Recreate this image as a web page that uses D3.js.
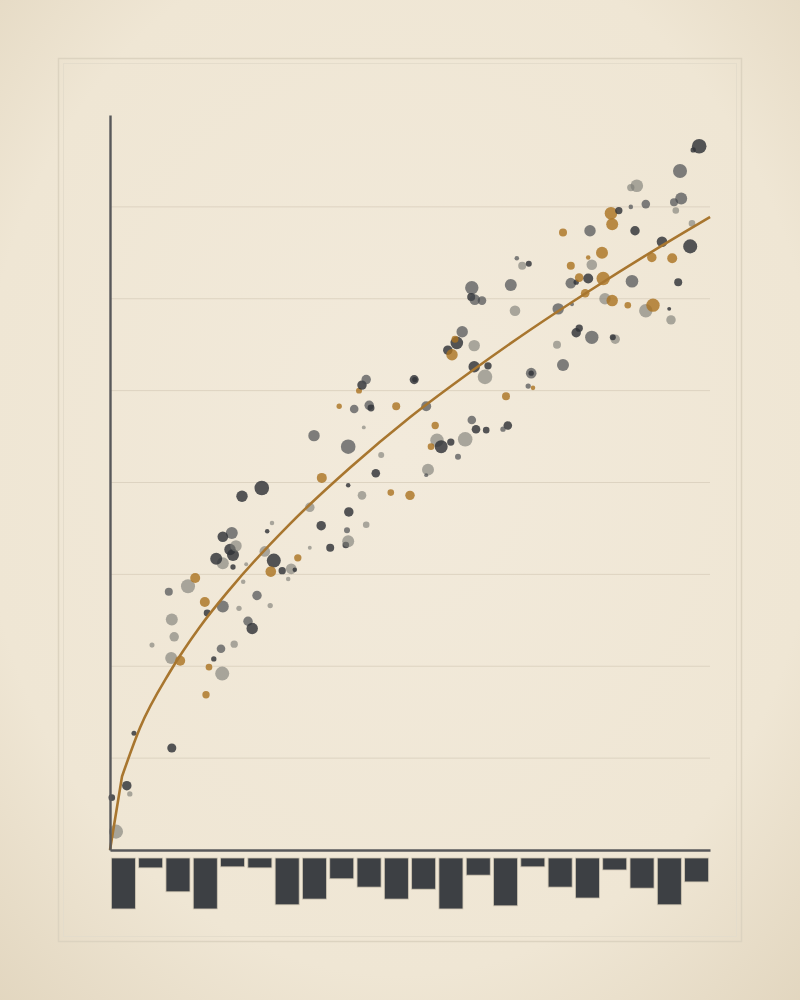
<!DOCTYPE html>
<html>
<head>
<meta charset="utf-8">
<script src="https://cdn.jsdelivr.net/npm/d3@7"></script>
<style>
  html, body { margin: 0; padding: 0; background: #f1e9d8; }
  svg { display: block; }
</style>
</head>
<body>
<script>
// ---------- data ----------
// scatter observations: [x, y, weight, group]  (groups: d = dark, m = mid grey, l = light grey, g = gold)
const observations = [
  [1.0,2.0,77,"l"],[0.3,5.7,17,"d"],[2.8,7.0,35,"d"],[3.3,6.1,11,"l"],[4.0,12.7,10,"d"],
  [10.3,11.1,32,"d"],[16.0,16.9,21,"g"],[18.7,19.2,77,"l"],[16.5,19.9,17,"g"],[17.3,20.8,11,"d"],
  [10.2,20.9,56,"l"],[11.7,20.6,39,"g"],[7.0,22.3,10,"l"],[18.5,21.9,29,"m"],[20.7,22.4,21,"l"],
  [10.7,23.2,35,"l"],[10.3,25.1,56,"l"],[23.0,24.9,35,"m"],[23.7,24.1,51,"d"],[21.5,26.3,11,"l"],
  [18.8,26.5,56,"m"],[16.2,25.8,19,"d"],[15.8,27.0,39,"g"],[9.8,28.1,25,"m"],[13.0,28.7,77,"l"],
  [14.2,29.6,39,"g"],[24.5,27.7,35,"m"],[26.7,26.6,11,"l"],[22.2,29.2,8,"l"],[22.7,31.1,6,"l"],
  [20.5,30.8,11,"d"],[18.8,31.2,56,"l"],[17.7,31.7,56,"d"],[20.5,32.1,56,"d"],[20.0,32.7,51,"d"],
  [21.0,33.1,51,"l"],[20.3,34.5,56,"m"],[18.8,34.1,44,"d"],[22.0,38.5,51,"d"],[25.3,39.4,83,"d"],
  [27.0,35.6,8,"l"],[26.2,34.7,8,"d"],[25.8,32.5,44,"l"],[27.3,31.5,77,"d"],[28.7,30.4,21,"d"],
  [26.8,30.3,44,"g"],[30.2,30.6,44,"l"],[30.8,30.5,8,"d"],[29.7,29.5,8,"l"],[31.3,31.8,21,"g"],
  [33.3,32.9,6,"l"],[33.3,37.3,35,"l"],[35.2,35.3,35,"d"],[35.3,40.5,39,"g"],[36.7,32.9,25,"d"],
  [39.3,33.2,17,"d"],[39.7,33.6,56,"l"],[39.5,34.8,14,"m"],[42.7,35.4,17,"l"],[39.8,36.8,35,"d"],
  [42.0,38.6,29,"l"],[39.7,39.7,8,"d"],[46.8,38.9,17,"g"],[50.0,38.6,35,"g"],[44.3,41.0,29,"d"],
  [45.2,43.0,14,"l"],[39.7,43.9,83,"m"],[34.0,45.1,51,"m"],[42.3,46.0,6,"l"],[38.2,48.3,11,"g"],
  [40.7,48.0,29,"m"],[43.2,48.4,35,"m"],[43.5,48.1,19,"d"],[47.7,48.3,25,"g"],[52.7,48.3,39,"m"],
  [41.5,50.0,14,"g"],[42.0,50.6,35,"d"],[42.7,51.2,35,"m"],[50.7,51.2,32,"d"],[50.8,51.2,11,"d"],
  [54.2,46.2,21,"g"],[54.5,44.6,70,"l"],[55.2,43.9,66,"d"],[53.5,43.9,17,"g"],[53.0,41.4,56,"l"],
  [52.7,40.8,6,"m"],[56.8,44.4,21,"d"],[59.2,44.7,83,"l"],[58.0,42.8,14,"m"],[60.3,46.8,29,"m"],
  [61.0,45.8,29,"d"],[62.7,45.7,17,"d"],[66.3,46.2,29,"d"],[65.5,45.8,11,"m"],[66.0,49.4,25,"g"],
  [69.7,50.5,11,"m"],[70.5,50.3,8,"g"],[70.2,51.9,44,"m"],[70.2,51.9,11,"d"],[60.7,52.6,51,"d"],
  [63.0,52.7,21,"d"],[62.5,51.5,83,"l"],[58.7,56.4,51,"m"],[57.8,55.2,62,"d"],[56.3,54.4,35,"d"],
  [57.0,53.9,51,"g"],[60.7,54.9,51,"l"],[57.5,55.6,19,"g"],[60.3,61.2,70,"m"],[60.2,60.2,25,"d"],
  [60.8,59.9,44,"m"],[62.0,59.8,29,"m"],[66.8,61.5,56,"m"],[67.5,58.7,44,"l"],[67.8,64.4,8,"m"],
  [68.7,63.6,25,"l"],[69.8,63.8,14,"d"],[74.7,58.9,51,"m"],[74.5,55.0,25,"l"],[75.5,52.8,56,"m"],
  [77.0,59.4,6,"m"],[76.8,61.7,44,"m"],[77.7,61.8,11,"d"],[78.2,62.3,29,"g"],[79.7,62.2,39,"d"],
  [79.2,60.6,29,"g"],[76.8,63.6,25,"g"],[80.3,63.7,44,"l"],[79.7,64.5,8,"g"],[82.0,65.0,56,"g"],
  [82.2,62.2,70,"g"],[82.5,60.0,51,"l"],[83.7,59.8,51,"g"],[86.3,59.3,17,"g"],[87.0,61.9,62,"m"],
  [78.2,56.8,21,"d"],[77.7,56.3,35,"d"],[80.3,55.8,70,"m"],[84.2,55.6,35,"l"],[83.8,55.8,14,"d"],
  [89.3,58.7,70,"l"],[90.5,59.3,70,"g"],[93.2,58.9,6,"d"],[93.5,57.7,35,"l"],[90.3,64.5,35,"g"],
  [93.7,64.4,39,"g"],[92.0,66.2,44,"d"],[96.7,65.7,77,"d"],[94.7,61.8,25,"d"],[75.5,67.2,25,"g"],
  [80.0,67.4,51,"m"],[87.5,67.4,35,"d"],[83.7,68.1,56,"g"],[83.5,69.3,62,"g"],[84.8,69.6,21,"d"],
  [86.8,70.0,8,"m"],[89.3,70.3,29,"m"],[94.0,70.5,25,"m"],[95.2,70.9,56,"m"],[94.3,69.6,17,"l"],
  [97.0,68.2,17,"l"],[87.8,72.3,62,"l"],[86.8,72.1,21,"l"],[95.0,73.9,77,"m"],[98.2,76.6,83,"d"],
  [97.2,76.2,11,"d"]
];

// fitted trend
const trendX = [0, 2, 5, 10, 15, 20, 30, 40, 50, 60, 70, 80, 90, 100];
const trendY = [0, 8.0, 13.3, 19.4, 24.3, 28.4, 35.5, 41.6, 47.1, 52.0, 56.6, 60.9, 65.0, 68.9];

// marginal bars (hanging below the x axis), 22 bins
const barValues = [9.8, 1.9, 6.5, 9.8, 1.7, 1.9, 9.0, 7.9, 4.0, 5.6, 7.9, 6.0, 9.8, 3.3, 9.2, 1.7, 5.6, 7.7, 2.3, 5.8, 9.0, 4.6];

const gridValues = [10, 20, 30, 40, 50, 60, 70];

// ---------- drawing ----------
(function () {
  const W = 800, H = 1000;
  const svg = d3.select("body").append("svg").attr("width", W).attr("height", H);

  const defs = svg.append("defs");
  const rg = defs.append("radialGradient").attr("id", "bg")
    .attr("cx", "50%").attr("cy", "45%").attr("r", "75%");
  rg.append("stop").attr("offset", "0%").attr("stop-color", "#f2eadb");
  rg.append("stop").attr("offset", "70%").attr("stop-color", "#efe6d4");
  rg.append("stop").attr("offset", "100%").attr("stop-color", "#e2d6bf");
  svg.append("rect").attr("width", W).attr("height", H).attr("fill", "url(#bg)");

  // frame
  svg.append("rect").attr("x", 58.5).attr("y", 58.5).attr("width", 683).attr("height", 883)
    .attr("fill", "none").attr("stroke", "#dcd3c0").attr("stroke-width", 1.5);
  svg.append("rect").attr("x", 63.5).attr("y", 63.5).attr("width", 673).attr("height", 873)
    .attr("fill", "none").attr("stroke", "#e4dccb").attr("stroke-width", 1);

  const pl = 110, pr = 710, pt = 115, pb = 850;
  const x = d3.scaleLinear().domain([0, 100]).range([pl, pr]);
  const y = d3.scaleLinear().domain([0, 80]).range([pb, pt]);
  const r = d3.scaleSqrt().domain([0, 100]).range([0, 8]);

  // gridlines
  svg.append("g").selectAll("line").data(gridValues).join("line")
    .attr("x1", pl).attr("x2", pr)
    .attr("y1", d => y(d)).attr("y2", d => y(d))
    .attr("stroke", "#ddd3c1").attr("stroke-width", 1);

  const style = {
    d: { fill: "#2f3237", op: 0.82 },
    m: { fill: "#45484d", op: 0.68 },
    l: { fill: "#7b7a75", op: 0.62 },
    g: { fill: "#aa721f", op: 0.8 }
  };

  svg.append("g").selectAll("circle").data(observations).join("circle")
    .attr("cx", d => x(d[0]))
    .attr("cy", d => y(d[1]))
    .attr("r", d => r(d[2]))
    .attr("fill", d => style[d[3]].fill)
    .attr("fill-opacity", d => style[d[3]].op);

  // trend line: straight first step, then smooth
  const trend = trendX.map((v, i) => [v, trendY[i]]);
  const lineLin = d3.line().x(d => x(d[0])).y(d => y(d[1]));
  const lineSmooth = d3.line().x(d => x(d[0])).y(d => y(d[1])).curve(d3.curveMonotoneX);
  const dPath = lineLin(trend.slice(0, 2)) + lineSmooth(trend.slice(1)).replace(/^M[^CLc]*/, "");
  svg.append("path")
    .attr("d", dPath)
    .attr("fill", "none").attr("stroke", "#a8762f").attr("stroke-width", 2.6)
    .attr("stroke-linejoin", "miter");

  // axes (plain lines, no ticks)
  const yAxis = d3.axisLeft(y).tickValues([]).tickSizeOuter(0);
  svg.append("g").attr("transform", `translate(${pl},0)`).call(yAxis)
    .call(g => g.select(".domain").attr("stroke", "#58585a").attr("stroke-width", 2.4));
  const xAxis = d3.axisBottom(x).tickValues([]).tickSizeOuter(0);
  svg.append("g").attr("transform", `translate(0,${pb})`).call(xAxis)
    .call(g => g.select(".domain").attr("stroke", "#58585a").attr("stroke-width", 2.4));

  // hanging bars
  const band = d3.scaleBand().domain(d3.range(barValues.length))
    .range([pl, pr]).paddingInner(0.12).paddingOuter(0.05);
  const barTop = 858;
  const bh = d3.scaleLinear().domain([0, 10]).range([0, 52]);
  svg.append("g").selectAll("rect").data(barValues).join("rect")
    .attr("x", (d, i) => band(i))
    .attr("y", barTop)
    .attr("width", band.bandwidth())
    .attr("height", d => bh(d))
    .attr("fill", "#3d4044")
    .attr("stroke", "#cfc6b3").attr("stroke-width", 0.8);
})();
</script>
</body>
</html>
